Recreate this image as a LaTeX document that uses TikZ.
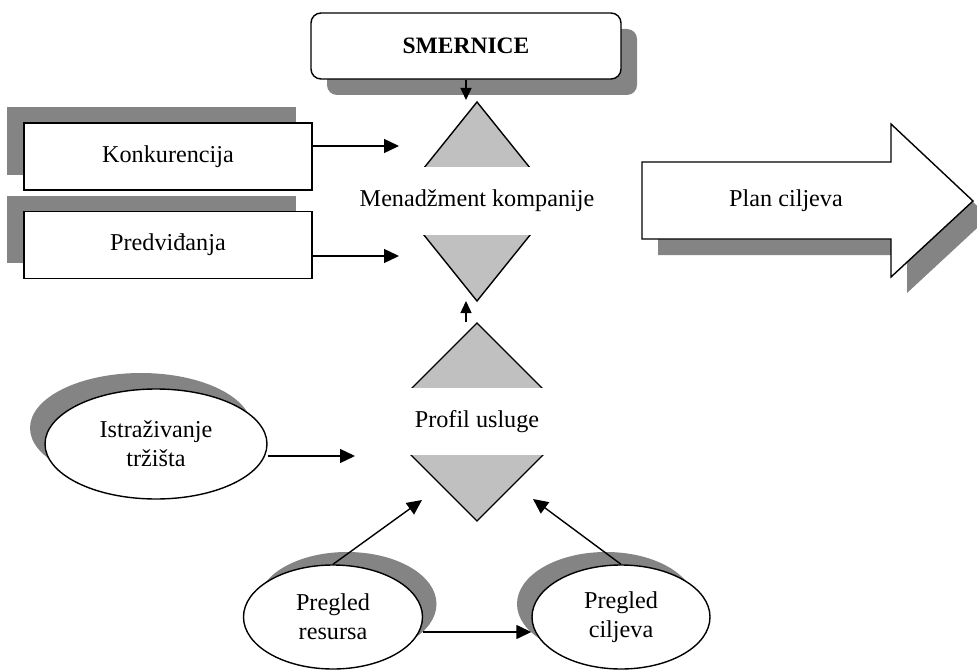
\documentclass[tikz,border=0pt]{standalone}
\usepackage{fontspec}
\setmainfont{Liberation Serif}
\usetikzlibrary{arrows.meta,shapes.geometric}
\definecolor{shadowgray}{RGB}{132,132,132}
\definecolor{trigray}{RGB}{192,192,192}
\begin{document}
\begin{tikzpicture}[x=1pt,y=-1pt,
  every node/.style={font=\fontsize{24.2}{29}\selectfont, inner sep=0pt},
  rectbox/.style={draw, line width=1.4pt, fill=white, minimum width=288pt, minimum height=67pt},
  oval/.style={draw, ellipse, line width=1.4pt, fill=white, align=center},
  dropshadow/.style={fill=shadowgray, draw=none},
  arr/.style={line width=1.4pt, -{Triangle[length=15pt,width=14pt]}},
  sarr/.style={line width=1.4pt, -{Triangle[length=12pt,width=11pt]}},
  tristyle/.style={fill=trigray, draw, line width=1.4pt, line join=miter},
  gaplabel/.style={fill=white, minimum height=68pt, minimum width=215pt},
]
\useasboundingbox (0,0) rectangle (977,671);

% ---- SMERNICE ----
\path[dropshadow, rounded corners=10pt] (327,29) rectangle (637,95);
\node[draw, line width=1.4pt, fill=white, rounded corners=10pt,
      minimum width=310pt, minimum height=66pt, font=\fontsize{23.5}{29}\selectfont\bfseries]
      (smernice) at (466,46) {SMERNICE};

% ---- Management diamond ----
\draw[tristyle] (477,102) -- (557,201.5) -- (477,301) -- (397,201.5) -- cycle;
\node[gaplabel] (mgmt) at (477,201) {Menadžment kompanije};
\coordinate (mgTop) at (466,100);
\coordinate (mgBot) at (466,301);
\coordinate (mgIn1) at (399,146);
\coordinate (mgIn2) at (399,256);

% ---- Profile diamond ----
\draw[tristyle] (477,323) -- (576,422) -- (477,521) -- (378,422) -- cycle;
\node[gaplabel, minimum width=240pt, minimum height=67pt] (profil) at (477,421.5) {Profil usluge};
\coordinate (prTop) at (466,322);
\coordinate (prIn) at (355,456);
\coordinate (prInL) at (422,500);
\coordinate (prInR) at (533,499);

% ---- Left boxes ----
\path[dropshadow] (7,107) rectangle (296,175);
\node[rectbox] (konk) at (168,156.5) {Konkurencija};
\path[dropshadow] (7,196) rectangle (296,263);
\node[rectbox] (pred) at (168,245) {Predviđanja};

% ---- Plan ciljeva block arrow ----
\path[dropshadow, shift={(16,16)}] (642,162) -- (891,162) -- (891,124) -- (973,201)
      -- (891,277) -- (891,239) -- (642,239) -- cycle;
\draw[line width=1.4pt, fill=white, line join=miter] (642,162) -- (891,162) -- (891,124) -- (973,201)
      -- (891,277) -- (891,239) -- (642,239) -- cycle;
\node (plan) at (786,201) {Plan ciljeva};

% ---- Ellipses ----
\path[dropshadow] (141,428) ellipse [x radius=111pt, y radius=55pt];
\node[oval, minimum width=222pt, minimum height=110pt] (istr) at (156,444) {Istraživanje\\tržišta};

\path[dropshadow] (347,604) ellipse [x radius=89.5pt, y radius=52pt];
\node[oval, minimum width=179pt, minimum height=104pt] (resursa) at (333,617) {Pregled\\resursa};

\path[dropshadow] (606,604) ellipse [x radius=89pt, y radius=52pt];
\node[oval, minimum width=178pt, minimum height=104pt] (ciljeva) at (621,617) {Pregled\\ciljeva};

% ---- Connectors ----
\draw[sarr] (smernice.south) -- (mgTop);
\draw[sarr] (prTop) -- (mgBot);
\draw[arr] (konk.east |- mgIn1) -- (mgIn1);
\draw[arr] (pred.east |- mgIn2) -- (mgIn2);
\draw[arr] (istr.east |- prIn) -- (prIn);
\draw[arr] (resursa.north) -- (prInL);
\draw[arr] (ciljeva.north) -- (prInR);
\draw[arr] ([yshift=-15pt]resursa.east) -- ([yshift=-15pt]ciljeva.west);
\end{tikzpicture}
\end{document}
